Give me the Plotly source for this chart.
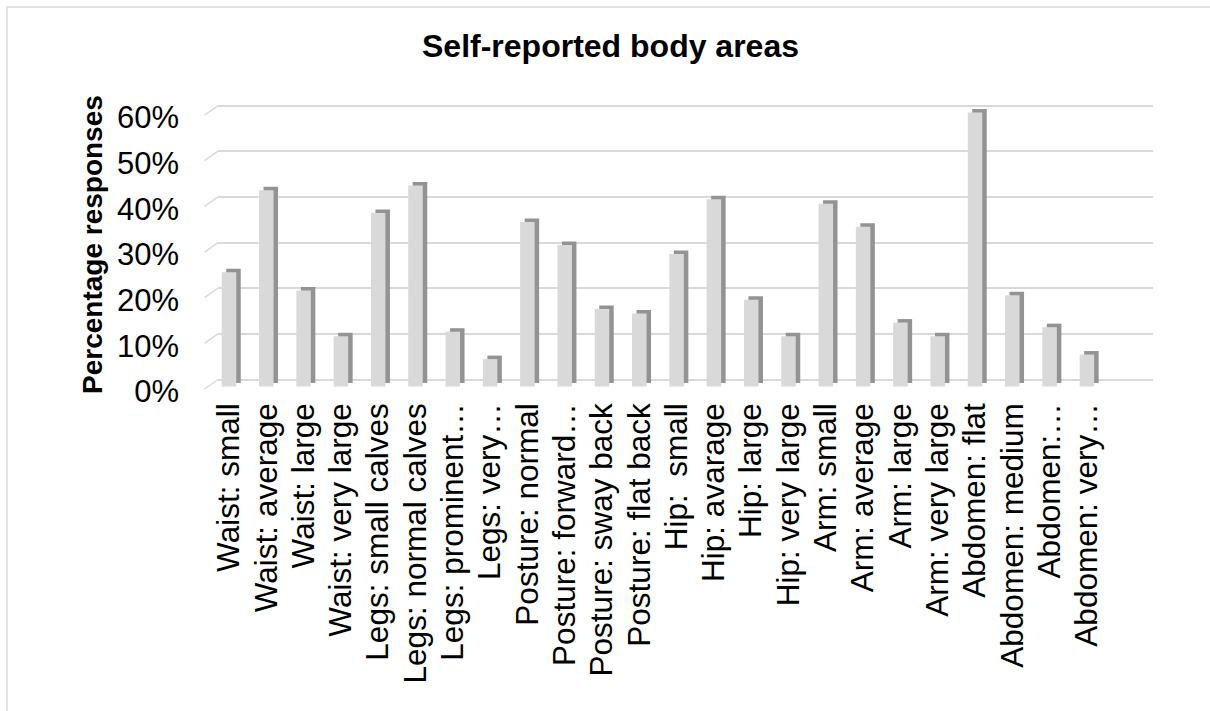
import plotly.graph_objects as go

# ---------------- data ----------------
categories = [
    "Waist: small", "Waist: average", "Waist: large", "Waist: very large",
    "Legs: small calves", "Legs: normal calves", "Legs: prominent…", "Legs: very…",
    "Posture: normal", "Posture: forward…", "Posture: sway back", "Posture: flat back",
    "Hip:  small", "Hip: avarage", "Hip: large", "Hip: very large",
    "Arm: small", "Arm: average", "Arm: large", "Arm: very large",
    "Abdomen: flat", "Abdomen: medium", "Abdomen:…", "Abdomen: very…",
]
values = [
    0.25, 0.43, 0.21, 0.11,
    0.38, 0.44, 0.12, 0.06,
    0.36, 0.31, 0.17, 0.16,
    0.29, 0.41, 0.19, 0.11,
    0.40, 0.35, 0.14, 0.11,
    0.60, 0.20, 0.13, 0.07,
]
tick_vals = [0.0, 0.1, 0.2, 0.3, 0.4, 0.5, 0.6]
tick_text = ["0%", "10%", "20%", "30%", "40%", "50%", "60%"]

title_text = "Self-reported body areas"
y_title = "Percentage responses"

# ---------------- layout geometry (pixels) ----------------
W_PX, H_PX = 1210, 711
L, R = 218, 1153            # plot area (back wall) left / right
T, B = 96, 393              # plot area top / bottom
ZERO_PX = 379.5             # 0% gridline on back wall
PPU = 456.6                 # pixels per unit (1.0 = 100%)
CAT0_PX, PITCH = 229.0, 37.3

y_top = (ZERO_PX - T) / PPU
y_bot = -(B - ZERO_PX) / PPU
front_shift = 7.0 / PPU     # front faces sit lower than the back wall
side_shift = 3.5 / PPU      # side/top faces are raised relative to front

x_lo = (L - CAT0_PX) / PITCH
x_hi = (R - CAT0_PX) / PITCH

bar_w = 14.5 / PITCH
side_dx = 4.5 / PITCH

FONT = "Liberation Sans, Arial, sans-serif"
GRID = "#d9d9d9"
FRONT = "#d9d9d9"
SIDE = "#939393"

fig = go.Figure()

# side / top faces (drawn behind)
fig.add_trace(go.Bar(
    x=categories, y=values, xaxis="x", yaxis="y2",
    width=bar_w, offset=-bar_w / 2 + side_dx,
    marker=dict(color=SIDE, line=dict(width=0)),
    hoverinfo="skip", showlegend=False,
))
# front faces
fig.add_trace(go.Bar(
    x=categories, y=values, xaxis="x", yaxis="y3",
    width=bar_w, offset=-bar_w / 2,
    marker=dict(color=FRONT, line=dict(width=0)),
    showlegend=False,
    hovertemplate="%{x}: %{y:.0%}<extra></extra>",
))

shapes = []
# left side-wall diagonals at each gridline
for v in tick_vals:
    shapes.append(dict(
        type="line", xref="paper", yref="y",
        x0=0, x1=-13.5 / (R - L), y0=v, y1=v - 9.5 / PPU,
        line=dict(color=GRID, width=1.5), layer="below",
    ))
# chart area border (only top/left visible in frame)
shapes.append(dict(
    type="rect", xref="paper", yref="paper",
    x0=(7 - L) / (R - L), x1=(W_PX + 5 - L) / (R - L),
    y0=(B - (H_PX + 5)) / (B - T), y1=(B - 7) / (B - T),
    line=dict(color=GRID, width=1.5), fillcolor="rgba(0,0,0,0)", layer="below",
))

fig.update_layout(
    width=W_PX, height=H_PX,
    margin=dict(l=L, r=W_PX - R, t=T, b=H_PX - B, pad=0),
    paper_bgcolor="white", plot_bgcolor="white",
    barmode="overlay",
    font=dict(family=FONT, color="#000000"),
    title=dict(
        text=title_text, x=610.5 / W_PX, xref="container", xanchor="center",
        y=1 - 46 / H_PX, yref="container", yanchor="middle",
        font=dict(family=FONT, size=32, weight="bold", color="#000000"),
    ),
    xaxis=dict(
        type="category", range=[x_lo, x_hi],
        tickmode="linear", tick0=0, dtick=1,
        showgrid=False, zeroline=False, showline=False, ticks="",
        tickangle=-90, tickfont=dict(family=FONT, size=31.5, color="#000000"),
        ticklabelstandoff=3,
    ),
    yaxis=dict(
        range=[y_bot, y_top], tickvals=tick_vals, ticktext=tick_text,
        showgrid=True, gridcolor=GRID, gridwidth=1.5,
        zeroline=False, showline=False, ticks="",
        tickfont=dict(family=FONT, size=31, color="#000000"),
        ticklabelstandoff=38, ticklabelshift=12,
    ),
    yaxis2=dict(
        range=[y_bot + front_shift - side_shift, y_top + front_shift - side_shift],
        overlaying="y", visible=False, showgrid=False, zeroline=False,
    ),
    yaxis3=dict(
        range=[y_bot + front_shift, y_top + front_shift],
        overlaying="y", visible=False, showgrid=False, zeroline=False,
    ),
    shapes=shapes,
    annotations=[dict(
        text=y_title, textangle=-90, xref="paper", yref="paper",
        x=(92 - L) / (R - L), y=(B - 245) / (B - T),
        xanchor="center", yanchor="middle", showarrow=False,
        font=dict(family=FONT, size=28, weight="bold", color="#000000"),
    )],
)

fig.write_html("out.html")
